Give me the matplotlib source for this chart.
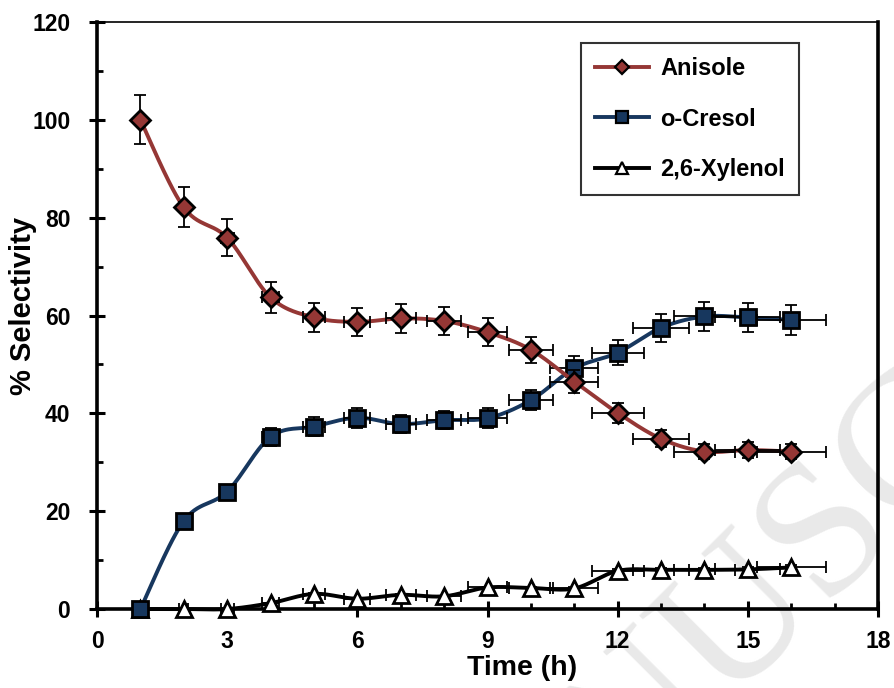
import numpy as np
import matplotlib.pyplot as plt
from matplotlib.lines import Line2D
from matplotlib.ticker import MultipleLocator

plt.rcParams['font.family'] = ['Liberation Sans', 'DejaVu Sans']
plt.rcParams['font.weight'] = 'bold'

time_h = [1, 2, 3, 4, 5, 6, 7, 8, 9, 10, 11, 12, 13, 14, 15, 16]
anisole = [100, 82.1, 75.9, 63.7, 59.6, 58.7, 59.4, 58.9, 56.6, 53.0, 46.5, 40.1, 34.8, 32.2, 32.5, 32.2]
cresol = [0, 18.0, 24.0, 35.2, 37.3, 39.1, 37.8, 38.6, 39.0, 42.7, 49.2, 52.4, 57.5, 59.8, 59.6, 59.1]
xylenol = [0, 0, 0, 1.2, 3.1, 2.1, 2.9, 2.6, 4.4, 4.3, 4.2, 7.8, 8.0, 8.0, 8.1, 8.5]

time_err = [0.05, 0.1, 0.15, 0.2, 0.25, 0.3, 0.35, 0.4, 0.45, 0.5, 0.55, 0.6, 0.65, 0.7, 0.75, 0.8]
anisole_err = [5.0, 4.1, 3.8, 3.2, 3.0, 2.9, 3.0, 2.9, 2.8, 2.7, 2.3, 2.0, 1.7, 1.6, 1.6, 1.6]
cresol_err = [0, 0.9, 1.2, 1.8, 1.9, 2.0, 1.9, 1.9, 2.0, 2.1, 2.5, 2.6, 2.9, 3.0, 3.0, 3.0]
xylenol_err = [0, 0, 0, 0.1, 0.2, 0.1, 0.1, 0.1, 0.2, 0.2, 0.2, 0.4, 0.4, 0.4, 0.4, 0.4]

red = '#953735'
blue = '#17375e'


def smooth(xs, ys, n=30):
    # excel-like smoothed line (bezier through the points)
    x = np.asarray(xs, float)
    y = np.asarray(ys, float)
    px, py = [], []
    for i in range(len(x) - 1):
        i0 = max(i - 1, 0)
        i3 = min(i + 2, len(x) - 1)
        c1x = x[i] + (x[i + 1] - x[i0]) / 6
        c1y = y[i] + (y[i + 1] - y[i0]) / 6
        c2x = x[i + 1] - (x[i3] - x[i]) / 6
        c2y = y[i + 1] - (y[i3] - y[i]) / 6
        t = np.linspace(0, 1, n)
        a, b, c, d = (1 - t) ** 3, 3 * (1 - t) ** 2 * t, 3 * (1 - t) * t ** 2, t ** 3
        px.extend(a * x[i] + b * c1x + c * c2x + d * x[i + 1])
        py.extend(a * y[i] + b * c1y + c * c2y + d * y[i + 1])
    return px, py


fig = plt.figure(figsize=(8.95, 6.88), dpi=100)
ax = fig.add_axes([0.1084, 0.1148, 0.8726, 0.8532])
ax.patch.set_alpha(0)

# faint watermark
fig.text(409 / 895, -332 / 688, 'MANUSCRIPT', family='Liberation Serif', fontweight='normal',
         fontsize=138, color='#e9e9e9', rotation=45, rotation_mode='anchor',
         ha='left', va='baseline', zorder=-5)

series = [
    (xylenol, xylenol_err, 'black', '^', 'white', 12, '2,6-Xylenol'),
    (cresol, cresol_err, blue, 's', blue, 12, 'o-Cresol'),
    (anisole, anisole_err, red, 'D', red, 10, 'Anisole'),
]

handles = []
for k, (vals, err, col, mk, fc, ms, lab) in enumerate(series):
    sx, sy = smooth(time_h, vals)
    ax.plot(sx, sy, color=col, lw=2.8, zorder=2 + k * 2, clip_on=False)
    ax.errorbar(time_h, vals, xerr=time_err, yerr=err, fmt='none', ecolor='black',
                elinewidth=1.3, capsize=4.5, capthick=1.3, zorder=2.5 + k * 2, clip_on=False)
    ax.plot(time_h, vals, ls='none', marker=mk, ms=ms, mfc=fc, mec='black', mew=2,
            zorder=3 + k * 2, clip_on=False)
    handles.append(Line2D([], [], color=col, lw=2.8, marker=mk, ms=ms * 0.75, mfc=fc,
                          mec='black', mew=1.6, label=lab))

ax.set_xlim(0, 18)
ax.set_ylim(0, 120)
ax.xaxis.set_major_locator(MultipleLocator(3))
ax.xaxis.set_minor_locator(MultipleLocator(1))
ax.yaxis.set_major_locator(MultipleLocator(20))
ax.yaxis.set_minor_locator(MultipleLocator(10))
ax.tick_params(which='major', direction='inout', length=11.5, width=2.2, labelsize=16.5)
ax.tick_params(axis='y', which='major', pad=13.5)
ax.tick_params(axis='x', which='major', pad=9)
ax.tick_params(which='minor', direction='in', length=4, width=2)
for lbl in ax.get_xticklabels() + ax.get_yticklabels():
    lbl.set_fontweight('bold')

for s in ['left', 'bottom', 'right']:
    ax.spines[s].set_linewidth(2.6)
ax.spines['top'].set_linewidth(1.2)

ax.set_xlabel('Time (h)', fontsize=20.5, fontweight='bold')
ax.set_ylabel('% Selectivity', fontsize=21, fontweight='bold')
ax.xaxis.set_label_coords(0.544, -0.078)
ax.yaxis.set_label_coords(-0.0768, 0.516)

leg = ax.legend(handles=handles[::-1], loc='upper left', bbox_to_anchor=(581 / 895, 645 / 688),
                bbox_transform=fig.transFigure, fontsize=17, frameon=True, fancybox=False,
                edgecolor='black', handlelength=2.3, labelspacing=1.16, borderpad=0.6,
                handletextpad=0.45, borderaxespad=0)
leg.get_frame().set_linewidth(1.5)
for t in leg.get_texts():
    t.set_fontweight('bold')

plt.savefig('out.png', dpi=100)
